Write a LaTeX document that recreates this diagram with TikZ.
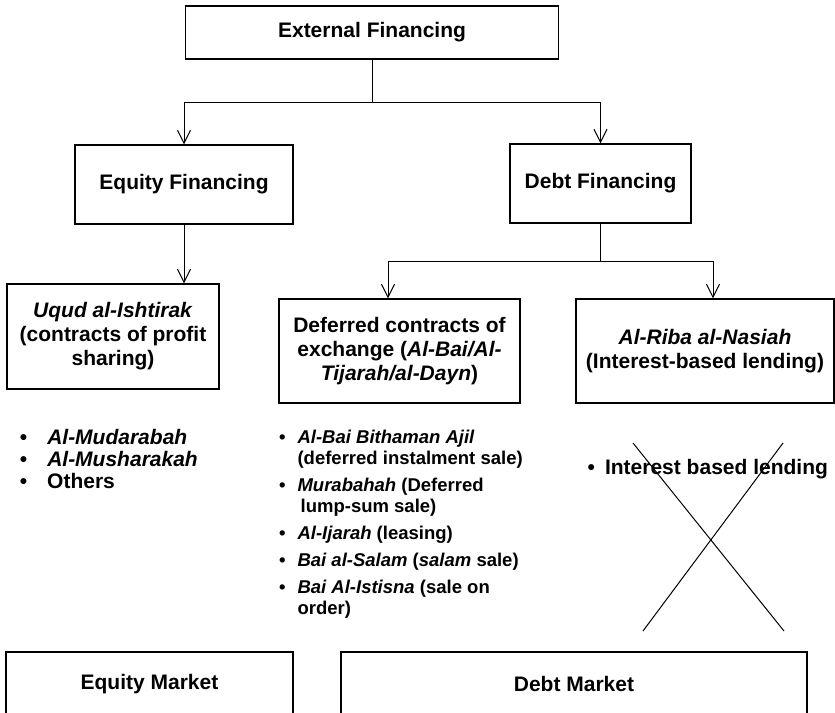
\documentclass[tikz,border=0pt]{standalone}
\usepackage{fontspec}
\setmainfont{Liberation Sans}
\usetikzlibrary{positioning,arrows.meta}

\begin{document}
\begin{tikzpicture}[
  x=0.5pt, y=-0.5pt,
  font=\bfseries\fontsize{10.5}{12}\selectfont,
  box/.style={
    draw, line width=0.65pt, inner sep=0pt, align=center,
    minimum width=#1,
  },
  link/.style={line width=0.5pt},
  arrow/.style={link, -{Straight Barb[length=6.5pt, width=6.5pt]}},
  listtxt/.style={inner sep=0pt, anchor=base west, align=left},
]
\useasboundingbox (0,0) rectangle (835,712);
\clip (0,0) rectangle (835,712);

% =================== top level ===================
\node[box=186.5pt, minimum height=26.5pt] (ext) at (372,32.5) {External Financing};

\node[box=109pt, minimum height=39.5pt] (eqf) at (184,184.5) {Equity Financing};
\node[box=90.5pt, minimum height=39.5pt] (dbf) at (600.5,183.5) {Debt Financing};

\coordinate (esplit) at (372,102);
\draw[link] (ext.south) -- (esplit);
\draw[arrow] (esplit) -| (eqf.north);
\draw[arrow] (esplit) -| (dbf.north);

% =================== contracts ===================
\node[box=106pt, minimum height=52.5pt] (uqd) at (113,336.5)
  {\textit{Uqud al-Ishtirak}\\(contracts of profit\\sharing)};
\node[box=120.5pt, minimum height=52pt] (dfr) at (399.5,351)
  {Deferred contracts of\\exchange (\textit{Al-Bai/Al-}\\\textit{Tijarah/al-Dayn})};
\node[box=129pt, minimum height=52pt] (rba) at (705,351)
  {\textit{Al-Riba al-Nasiah}\\(Interest-based lending)};

\draw[arrow] (eqf.south) -- (eqf.south |- uqd.north);

\coordinate (dsplit) at (600.5,261);
\draw[link] (dbf.south) -- (dsplit);
\draw[arrow] (dsplit) -| ([xshift=-5.75pt]dfr.north);
\draw[arrow] (dsplit) -| ([xshift=4pt]rba.north);

% =================== instruments ===================
\node[listtxt, font=\bfseries\fontsize{10.5}{11}\selectfont] (eqlist) at (19.5,444.5)
  {\begin{tabular}[t]{@{}l@{\hspace{10pt}}l@{}}
   \textbullet & \textit{Al-Mudarabah}\\
   \textbullet & \textit{Al-Musharakah}\\
   \textbullet & Others
   \end{tabular}};

\node[listtxt, font=\bfseries\fontsize{9.25}{10.5}\selectfont] (dflist) at (278.7,443.6)
  {\begin{tabular}[t]{@{}l@{\hspace{6pt}}l@{}}
   \textbullet & \textit{Al-Bai Bithaman Ajil}\\
               & (deferred instalment sale)\\[3pt]
   \textbullet & \textit{Murabahah} (Deferred\\
               & \,lump-sum sale)\\[3pt]
   \textbullet & \textit{Al-Ijarah} (leasing)\\[3pt]
   \textbullet & \textit{Bai al-Salam} (\textit{salam} sale)\\[3pt]
   \textbullet & \textit{Bai Al-Istisna} (sale on\\
               & order)
   \end{tabular}};

\node[listtxt] (rblist) at (587.3,474.5) {\textbullet\hspace{5pt}Interest based lending};

% crossed out
\coordinate (xa1) at (633,443);
\coordinate (xa2) at (784,631);
\coordinate (xb1) at (783,443);
\coordinate (xb2) at (643,631);
\draw[link] (xa1) -- (xa2);
\draw[link] (xb1) -- (xb2);

% =================== markets ===================
\node[box=143.5pt, minimum height=32pt] (eqm) at (149.5,684) {Equity Market};
\node[box=233pt, minimum height=32pt] (dbm) at (574,684) {Debt Market};

\end{tikzpicture}
\end{document}
